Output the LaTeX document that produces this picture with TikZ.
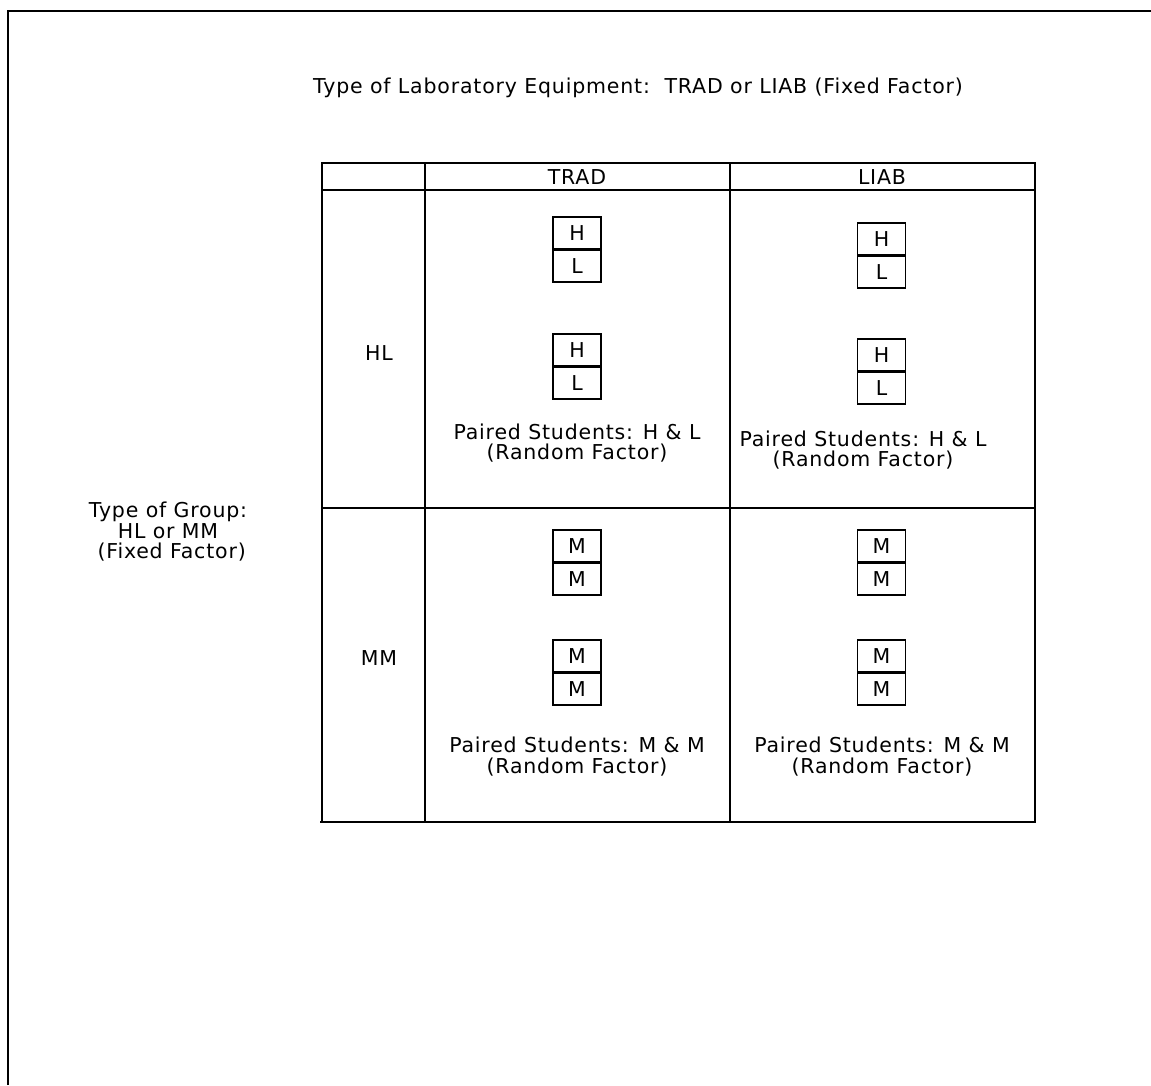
\documentclass[tikz,border=0pt]{standalone}
\usepackage{fontspec}
\setmainfont{DejaVu Sans}[LetterSpace=4]
\begin{document}
\begin{tikzpicture}[x=1pt,y=-1pt,
  rule/.style={line width=2pt},
  half/.style={draw, line width=1.8pt, minimum width=48pt, minimum height=31.5pt,
    inner sep=0pt, font=\fontsize{20.5}{20.5}\selectfont},
  lbl/.style={font=\fontsize{20.5}{20.5}\selectfont, align=center, inner sep=0pt}]
\useasboundingbox (0,0) rectangle (1151,1085);

% outer frame (open to the right and bottom)
\draw[rule] (8,1085) -- (8,11) -- (1151,11);

% title
\node[lbl] (title) at (638,88) {Type of Laboratory Equipment:\ \ TRAD or LIAB (Fixed Factor)};

% grid of the design table
\draw[rule] (322,163) rectangle (1035,822);
\draw[rule] (320,822) -- (322,822);
\draw[rule] (322,190) -- (1035,190);
\draw[rule] (322,508) -- (1035,508);
\draw[rule] (425,163) -- (425,822);
\draw[rule] (730,163) -- (730,822);

% column headers
\node[lbl] (trad) at (577,177) {TRAD};
\node[lbl] (liab) at (882,177) {LIAB};

% row headers
\node[lbl] (hl) at (379,353) {HL};
\node[lbl] (mm) at (379,658) {MM};

% side label
\node[lbl] (group) at (168,532) {Type of Group:\\HL or MM\\\ (Fixed Factor)};

% student pairs, HL / TRAD
\node[half, anchor=north] (a1) at (577,216) {H};
\node[half, anchor=north] (a2) at (a1.south) {L};
\node[half, anchor=north] (b1) at (577,333) {H};
\node[half, anchor=north] (b2) at (b1.south) {L};
\node[lbl] (pa) at (577,443) {Paired Students: H \& L\\(Random Factor)};

% student pairs, HL / LIAB
\node[half, anchor=north] (c1) at (881.5,222) {H};
\node[half, anchor=north] (c2) at (c1.south) {L};
\node[half, anchor=north] (d1) at (881.5,338) {H};
\node[half, anchor=north] (d2) at (d1.south) {L};
\node[lbl] (pb) at (863,450) {Paired Students: H \& L\\(Random Factor)};

% student pairs, MM / TRAD
\node[half, anchor=north] (e1) at (577,529) {M};
\node[half, anchor=north] (e2) at (e1.south) {M};
\node[half, anchor=north] (f1) at (577,639) {M};
\node[half, anchor=north] (f2) at (f1.south) {M};
\node[lbl] (pc) at (577,756.5) {Paired Students: M \& M\\(Random Factor)};

% student pairs, MM / LIAB
\node[half, anchor=north] (g1) at (881.5,529) {M};
\node[half, anchor=north] (g2) at (g1.south) {M};
\node[half, anchor=north] (h1) at (881.5,639) {M};
\node[half, anchor=north] (h2) at (h1.south) {M};
\node[lbl] (pd) at (882,756.5) {Paired Students: M \& M\\(Random Factor)};
\end{tikzpicture}
\end{document}
